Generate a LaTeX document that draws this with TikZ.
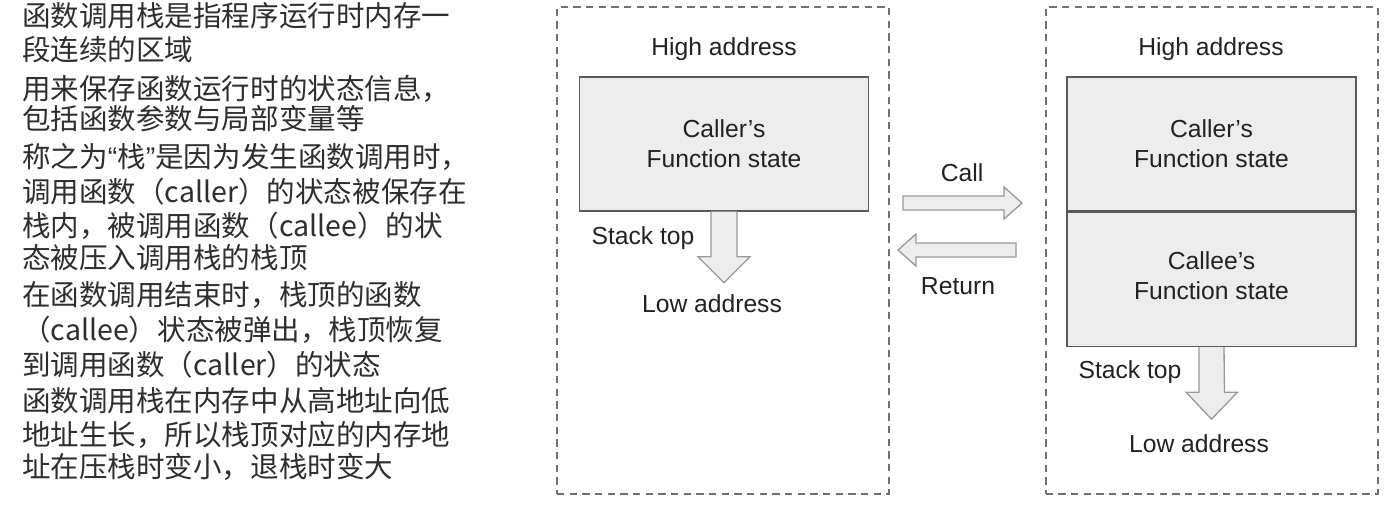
\documentclass[tikz,border=0pt]{standalone}
\usepackage{fontspec}
\setmainfont{Liberation Sans}
\newfontfamily\cjk{Noto Sans CJK SC}
\newfontfamily\latq{Liberation Sans}
\newcommand{\myLQ}{{\latq “}}
\newcommand{\myRQ}{{\latq ”}}
\usetikzlibrary{calc}
\definecolor{txtc}{HTML}{222222}
\definecolor{cjkc}{HTML}{2E2E2E}
\definecolor{boxfill}{HTML}{EDEDED}
\definecolor{boxline}{HTML}{5A5A5A}
\definecolor{arrline}{HTML}{9A9A9A}
\definecolor{dashc}{HTML}{707070}
\begin{document}
\begin{tikzpicture}[x=0.75pt,y=-0.75pt,
  cjkline/.style={anchor=west,inner sep=0pt,text=cjkc,font=\cjk\fontsize{21.4}{26}\selectfont},
  lbl/.style={inner sep=0pt,text=txtc,font=\fontsize{18.5}{22.5}\selectfont,align=center},
  frame/.style={draw=dashc,line width=1.5pt,dash pattern=on 5.5pt off 4pt,inner sep=0pt,minimum width=249pt,minimum height=365.25pt},
  stackbox/.style={draw=boxline,line width=1.1pt,fill=boxfill,inner sep=0pt,minimum width=216.5pt,minimum height=100.5pt,align=center,text=txtc,font=\fontsize{18.5}{22.5}\selectfont},
  arr/.style={draw=arrline,line width=1pt,fill=boxfill,line join=miter}]
\useasboundingbox[fill=white] (0,0) rectangle (1393,522);

% left text
\node[cjkline] (t1) at (22,16) {函数调用栈是指程序运行时内存一};
\node[cjkline] (t2) at (22,50) {段连续的区域};
\node[cjkline] (t3) at (22,89) {用来保存函数运行时的状态信息，};
\node[cjkline] (t4) at (22,119) {包括函数参数与局部变量等};
\node[cjkline] (t5) at (22,157) {称之为\myLQ 栈\myRQ 是因为发生函数调用时，};
\node[cjkline] (t6) at (22,192) {调用函数（caller）的状态被保存在};
\node[cjkline] (t7) at (22,226) {栈内，被调用函数（callee）的状};
\node[cjkline] (t8) at (22,258) {态被压入调用栈的栈顶};
\node[cjkline] (t9) at (22,295) {在函数调用结束时，栈顶的函数};
\node[cjkline] (t10) at (22,330) {（callee）状态被弹出，栈顶恢复};
\node[cjkline] (t11) at (22,365) {到调用函数（caller）的状态};
\node[cjkline] (t12) at (22,401) {函数调用栈在内存中从高地址向低};
\node[cjkline] (t13) at (22,435) {地址生长，所以栈顶对应的内存地};
\node[cjkline] (t14) at (22,467) {址在压栈时变小，退栈时变大};

% left frame
\node[frame] (fl) at (723,250.5) {};
\node[lbl] (hl) at (724,49) {High address};
\node[stackbox] (cl) at (724,144) {Caller’s\\Function state};
\draw[arr] ($(cl.south)+(-13,0)$) -- ++(0,45) -- ++(-13,0) -- ($(cl.south)+(0,71)$)
  -- ($(cl.south)+(26,45)$) -- ++(-13,0) -- ($(cl.south)+(13,0)$);
\node[lbl] (sl) at (643,238) {Stack top};
\node[lbl] (ll) at (712,304) {Low address};

% middle arrows
\node[lbl] (call) at (962,173) {Call};
\coordinate (cs) at (903,203);
\draw[arr] ($(cs)+(0,-7)$) -- ++(101,0) -- ++(0,-9) -- ($(cs)+(119,0)$) -- ($(cs)+(101,16)$) -- ++(0,-9) -- ($(cs)+(0,7)$) -- cycle;
\coordinate (rs) at (1016,250);
\draw[arr] ($(rs)+(0,-7)$) -- ++(-100,0) -- ++(0,-9) -- ($(rs)+(-118,0)$) -- ($(rs)+(-100,16)$) -- ++(0,-9) -- ($(rs)+(0,7)$) -- cycle;
\node[lbl] (ret) at (958,286) {Return};

% right frame
\node[frame] (fr) at (1211.5,250.5) {};
\node[lbl] (hr) at (1211,49) {High address};
\node[stackbox] (cr) at (1211.5,144) {Caller’s\\Function state};
\node[stackbox,anchor=north] (ce) at (cr.south) {};
\node[lbl] (cet) at ($(ce.center)+(0,-4)$) {Callee’s\\Function state};
\draw[arr] ($(ce.south)+(-12.5,0)$) -- ++(0,45) -- ++(-13,0) -- ($(ce.south)+(0,72)$)
  -- ($(ce.south)+(26,45)$) -- ++(-13,0) -- ($(ce.south)+(12.5,0)$);
\node[lbl] (sr) at (1130,372) {Stack top};
\node[lbl] (lr) at (1199,444) {Low address};
\end{tikzpicture}
\end{document}
